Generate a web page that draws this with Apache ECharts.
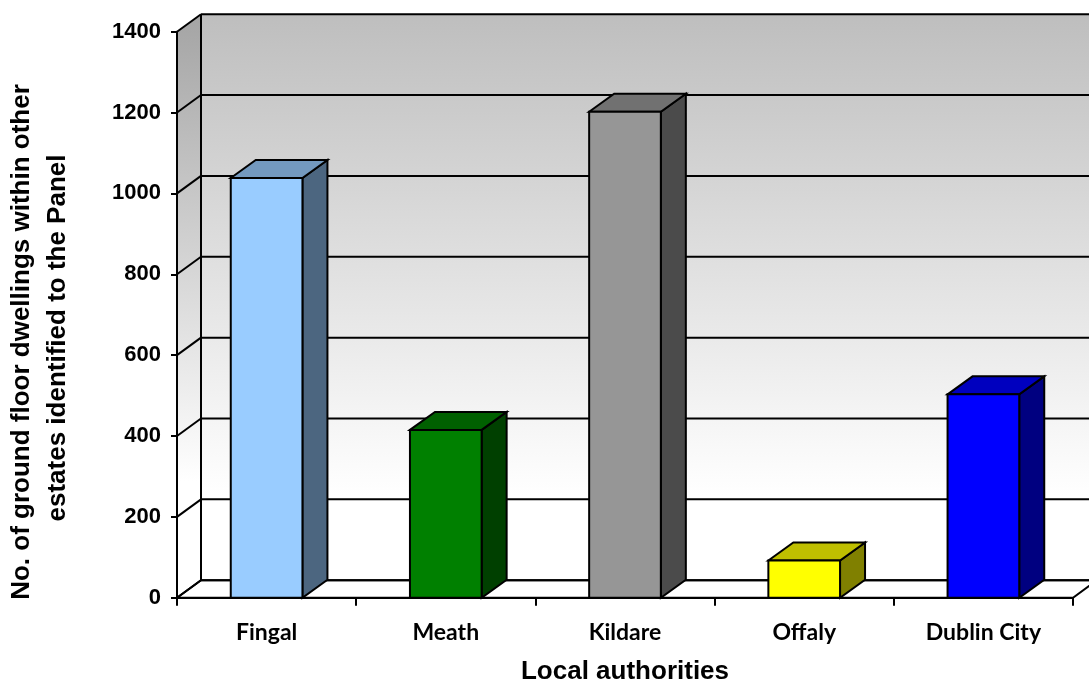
<!DOCTYPE html>
<html>
<head>
<meta charset="utf-8">
<title>Ground floor dwellings by local authority</title>
<script src="https://cdn.jsdelivr.net/npm/echarts@6/dist/echarts.min.js"></script>
<style>
  html, body { margin: 0; padding: 0; background: #ffffff; }
  #chart { width: 1089px; height: 681px; }
</style>
</head>
<body>
<div id="chart"></div>
<script>
// Dwellings per local authority
const categories = ['Fingal', 'Meath', 'Kildare', 'Offaly', 'Dublin City'];
const dwellings = [1038, 415, 1202, 92, 503];
const yTicks = [0, 200, 400, 600, 800, 1000, 1200, 1400];

// Face colours for each bar: front, top, side
const frontColors = ['#99ccff', '#008000', '#969696', '#ffff00', '#0000ff'];
const topColors = ['#7399bf', '#006000', '#717171', '#bfbf00', '#0000bf'];
const sideColors = ['#4c6680', '#004000', '#4b4b4b', '#808000', '#000080'];

// Perspective offsets (pixels) for the walls and the bar depth
const WALL_DX = 24, WALL_DY = -17.5;
const BAR_DX = 25, BAR_DY = -18;
const EDGE = '#000000';

const chart = echarts.init(document.getElementById('chart'));

function renderFrame(params, api) {
  const cs = params.coordSys;
  const left = cs.x, right = cs.x + cs.width;
  const y0 = api.coord([0, yTicks[0]])[1];
  const yTop = api.coord([0, yTicks[yTicks.length - 1]])[1];
  const children = [];
  // back wall
  children.push({
    type: 'rect',
    shape: { x: left + WALL_DX, y: yTop + WALL_DY, width: cs.width + 40, height: y0 - yTop },
    style: {
      fill: new echarts.graphic.LinearGradient(0, 0, 0, 1, [
        { offset: 0, color: '#bebebe' },
        { offset: 0.85, color: '#ffffff' },
        { offset: 1, color: '#ffffff' }
      ])
    }
  });
  // side wall
  children.push({
    type: 'polygon',
    shape: { points: [[left, yTop], [left + WALL_DX, yTop + WALL_DY], [left + WALL_DX, y0 + WALL_DY], [left, y0]] },
    style: {
      fill: new echarts.graphic.LinearGradient(0, 0, 0, 1, [
        { offset: 0, color: '#a4a4a4' },
        { offset: 0.8, color: '#ffffff' },
        { offset: 1, color: '#ffffff' }
      ])
    }
  });
  // floor
  children.push({
    type: 'polygon',
    shape: { points: [[left, y0], [left + WALL_DX, y0 + WALL_DY], [right + WALL_DX, y0 + WALL_DY], [right, y0]] },
    style: { fill: '#ffffff', stroke: EDGE, lineWidth: 2 }
  });
  // gridlines on the back wall and on the side wall
  yTicks.forEach(function (v) {
    const y = api.coord([0, v])[1];
    children.push({
      type: 'line',
      shape: { x1: left + WALL_DX, y1: y + WALL_DY, x2: right + WALL_DX + 40, y2: y + WALL_DY },
      style: { stroke: EDGE, lineWidth: 2 }
    });
    children.push({
      type: 'line',
      shape: { x1: left, y1: y, x2: left + WALL_DX, y2: y + WALL_DY },
      style: { stroke: EDGE, lineWidth: 2 }
    });
  });
  // back wall left edge
  children.push({
    type: 'line',
    shape: { x1: left + WALL_DX, y1: yTop + WALL_DY, x2: left + WALL_DX, y2: y0 + WALL_DY },
    style: { stroke: EDGE, lineWidth: 2 }
  });
  return { type: 'group', children: children, silent: true };
}

function renderBar(params, api) {
  const idx = api.value(0);
  const base = api.coord([idx, 0]);
  const top = api.coord([idx, api.value(1)]);
  const halfW = api.size([1, 0])[0] * 0.2;
  const xl = base[0] - halfW, xr = base[0] + halfW;
  const yb = base[1], yt = top[1];
  const i = params.dataIndex;
  const line = { stroke: EDGE, lineWidth: 2, lineJoin: 'miter' };
  return {
    type: 'group',
    children: [
      {
        type: 'polygon',
        shape: { points: [[xr, yt], [xr + BAR_DX, yt + BAR_DY], [xr + BAR_DX, yb + BAR_DY], [xr, yb]] },
        style: Object.assign({ fill: sideColors[i] }, line)
      },
      {
        type: 'polygon',
        shape: { points: [[xl, yt], [xl + BAR_DX, yt + BAR_DY], [xr + BAR_DX, yt + BAR_DY], [xr, yt]] },
        style: Object.assign({ fill: topColors[i] }, line)
      },
      {
        type: 'rect',
        shape: { x: xl, y: yt, width: xr - xl, height: yb - yt },
        style: Object.assign({ fill: frontColors[i] }, line)
      }
    ]
  };
}

chart.setOption({
  animation: false,
  backgroundColor: '#ffffff',
  grid: { left: 177, right: 16, top: 31.7, bottom: 83.3, containLabel: false },
  xAxis: {
    type: 'category',
    data: categories,
    boundaryGap: true,
    axisLine: { show: true, lineStyle: { color: EDGE, width: 2 } },
    axisTick: { show: true, length: 8, lineStyle: { color: EDGE, width: 2 } },
    axisLabel: {
      margin: 23,
      color: '#000000',
      fontFamily: 'Lato',
      fontWeight: 'bold',
      fontSize: 23
    },
    splitLine: { show: false },
    z: 5
  },
  yAxis: {
    type: 'value',
    min: yTicks[0],
    max: yTicks[yTicks.length - 1],
    interval: 200,
    axisLine: { show: true, lineStyle: { color: EDGE, width: 2 } },
    axisTick: { show: true, length: 6, lineStyle: { color: EDGE, width: 2 } },
    axisLabel: {
      margin: 16,
      padding: [6, 0, 0, 0],
      color: '#000000',
      fontFamily: 'Liberation Sans',
      fontWeight: 'bold',
      fontSize: 22,
      formatter: function (v) { return yTicks.indexOf(v) >= 0 ? String(v) : ''; }
    },
    splitLine: { show: false },
    z: 5
  },
  graphic: [
    {
      type: 'text',
      x: 22, y: 342,
      rotation: Math.PI / 2,
      style: {
        text: 'No. of ground floor dwellings within other',
        font: 'bold 26px "Liberation Sans"',
        fill: '#000000',
        align: 'center',
        verticalAlign: 'middle'
      }
    },
    {
      type: 'text',
      x: 58, y: 338,
      rotation: Math.PI / 2,
      style: {
        text: 'estates identified to the Panel',
        font: 'bold 26px "Liberation Sans"',
        fill: '#000000',
        align: 'center',
        verticalAlign: 'middle'
      }
    },
    {
      type: 'text',
      x: 625, y: 672,
      style: {
        text: 'Local authorities',
        font: 'bold 26px "Liberation Sans"',
        fill: '#000000',
        align: 'center',
        verticalAlign: 'middle'
      }
    }
  ],
  series: [
    {
      type: 'custom',
      name: 'frame',
      renderItem: renderFrame,
      data: [[0, 0]],
      silent: true,
      z: 1
    },
    {
      type: 'custom',
      name: 'Dwellings',
      renderItem: renderBar,
      data: dwellings.map(function (v, i) { return [i, v]; }),
      z: 3
    }
  ]
});
</script>
</body>
</html>
